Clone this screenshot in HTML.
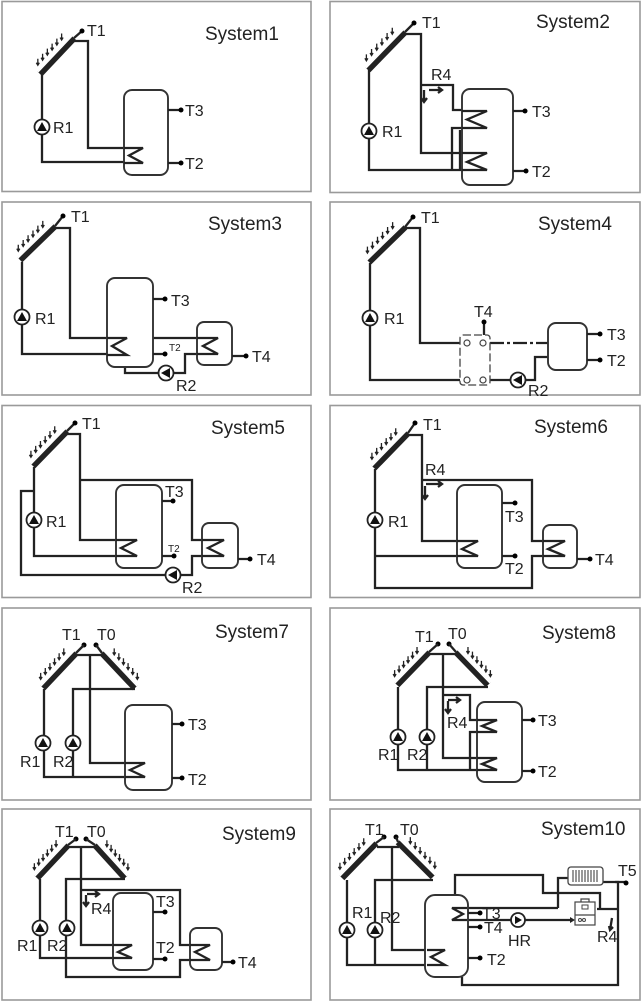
<!DOCTYPE html>
<html><head><meta charset="utf-8"><style>
html,body{margin:0;padding:0;background:#fff;}
svg{display:block;}
text{font-family:"Liberation Sans",Arial,sans-serif;fill:#222;}
.t{font-size:16px}.h{font-size:19px}.s{font-size:10px}
.p{fill:none;stroke:#222;stroke-width:2.3;stroke-linejoin:miter}
.k{fill:#fff;stroke:#333;stroke-width:1.9}
.b{fill:none;stroke:#9a9a9a;stroke-width:1.6}
.c1{stroke:#222;stroke-width:6.5}.c2{stroke:#fff;stroke-width:1.3}
</style></head><body>
<svg id="s" width="644" height="1005" viewBox="0 0 644 1005" xmlns="http://www.w3.org/2000/svg">
<defs>
<g id="pu"><circle r="7.5" fill="#fff" stroke="#222" stroke-width="1.8"/><polygon points="0,-5 5,4 -5,4" fill="#111"/></g>
</defs>

<!-- Panel 1 -->
<g transform="translate(0,0)">
<rect class="b" x="2" y="1.5" width="309" height="190"/>
<text class="h" x="205" y="40">System1</text>
<path class="p" d="M73,41 H88 V148 H133 M42,74 V162 H125"/>
<rect class="k" x="124" y="90" width="44" height="85" rx="8"/>
<path class="p" d="M124,148 H143 L129,155.5 L143,163 H124"/>
<path class="p" d="M168,110 H181 M168,163 H181"/>
<circle cx="181" cy="110" r="2.5"/><circle cx="181" cy="163" r="2.5"/>
<text class="t" x="185" y="116">T3</text><text class="t" x="185" y="169">T2</text>
<line class="c1" x1="40" y1="74" x2="74" y2="38"/><line class="c2" x1="38" y1="72" x2="72" y2="36"/>
<path class="p" stroke-width="1.3" d="M74,38 L82,31"/><circle cx="82" cy="31" r="2.5"/>
<text class="t" x="87" y="36">T1</text>
<use href="#pu" transform="translate(42,127)"/><text class="t" x="53" y="133">R1</text>
<g class="rays" data-a="40,74,74,38"></g>
</g>

<!-- Panel 2 -->
<g transform="translate(325,0)">
<rect class="b" x="5" y="1.5" width="310" height="191"/>
<text class="h" x="211" y="28">System2</text>
<path class="p" d="M80,34 H96 V153 H140 M44,70 V170 H140 M96,85 H128 V110 H138 M138,128 H127 V170 M135,130 V170"/>
<rect class="k" x="137" y="89" width="51" height="96" rx="8"/>
<path class="p" d="M137,111 H162 L142,119.5 L162,128 H137 M137,153 H162 L142,162 L162,170 H137"/>
<path class="p" stroke-width="1.3" d="M104,90 H117 M113,87 L117,90 L113,93 M99,90 V102 M96,98 L99,102 L102,98"/>
<text class="t" x="106" y="80">R4</text>
<path class="p" d="M188,111 H200 M188,171 H201"/>
<circle cx="200" cy="111" r="2.5"/><circle cx="201" cy="171" r="2.5"/>
<text class="t" x="207" y="117">T3</text><text class="t" x="207" y="177">T2</text>
<line class="c1" x1="43" y1="70" x2="80" y2="32"/><line class="c2" x1="41" y1="68" x2="78" y2="30"/>
<path class="p" stroke-width="1.3" d="M80,32 L89,23"/><circle cx="89" cy="23" r="2.5"/>
<text class="t" x="97" y="28">T1</text>
<use href="#pu" transform="translate(44,131)"/><text class="t" x="57" y="137">R1</text>
<g class="rays" data-a="43,70,80,32"></g>
</g>

<!-- Panel 3 -->
<g transform="translate(0,200)">
<rect class="b" x="2" y="2" width="309" height="193"/>
<text class="h" x="208" y="30">System3</text>
<path class="p" d="M55,28 H70 V138 H125 M22,62 V154 H108 M153,138 H217 M200,154 H185 V173 H172 M160,173 H125 V167"/>
<rect class="k" x="107" y="78" width="46" height="89" rx="8"/>
<rect class="k" x="197" y="122" width="35" height="43" rx="7"/>
<path class="p" d="M107,138 H127 L112,146 L127,155 H107 M197,138 H218 L203,146 L218,154 H197"/>
<path class="p" d="M153,99 H165 M153,154 H165 M232,156 H246"/>
<circle cx="165" cy="99" r="2.5"/><circle cx="165" cy="154" r="2.5"/><circle cx="246" cy="156" r="2.5"/>
<text class="t" x="171" y="106">T3</text><text class="s" x="169" y="151">T2</text><text class="t" x="252" y="162">T4</text>
<line class="c1" x1="20" y1="60" x2="55" y2="26"/><line class="c2" x1="18" y1="58" x2="53" y2="24"/>
<path class="p" stroke-width="1.3" d="M55,26 L63,16"/><circle cx="63" cy="16" r="2.5"/>
<text class="t" x="71" y="22">T1</text>
<use href="#pu" transform="translate(22,117)"/><text class="t" x="35" y="124">R1</text>
<use href="#pu" transform="translate(166,173) rotate(-90)"/><text class="t" x="176" y="191">R2</text>
<g class="rays" data-a="20,60,55,26"></g>
</g>

<!-- Panel 4 -->
<g transform="translate(325,200)">
<rect class="b" x="5" y="2" width="310" height="193"/>
<text class="h" x="213" y="30">System4</text>
<path class="p" d="M80,28 H95 V143 H137 M45,63 V180 H137 M165,180 H186 M200,180 H210 V157 H223"/>
<path class="p" stroke-dasharray="14,3,3,3" d="M165,143 H223"/>
<rect x="135" y="135" width="30" height="50" rx="3" fill="#fff" stroke="#444" stroke-width="1.3" stroke-dasharray="8,3"/>
<g fill="none" stroke="#444" stroke-width="1.2"><circle cx="142" cy="143" r="3"/><circle cx="158" cy="143" r="3"/><circle cx="142" cy="180" r="3"/><circle cx="158" cy="180" r="3"/></g>
<path class="p" stroke-width="1.3" d="M159,122 V135"/><circle cx="159" cy="122" r="2.5"/><text class="t" x="149" y="117">T4</text>
<rect class="k" x="223" y="123" width="39" height="47" rx="8"/>
<path class="p" d="M262,134 H275 M262,160 H275"/>
<circle cx="275" cy="134" r="2.5"/><circle cx="275" cy="160" r="2.5"/>
<text class="t" x="282" y="140">T3</text><text class="t" x="282" y="166">T2</text>
<line class="c1" x1="44" y1="62" x2="80" y2="27"/><line class="c2" x1="42" y1="60" x2="78" y2="25"/>
<path class="p" stroke-width="1.3" d="M80,27 L88,17"/><circle cx="88" cy="17" r="2.5"/>
<text class="t" x="96" y="23">T1</text>
<use href="#pu" transform="translate(45,118)"/><text class="t" x="59" y="124">R1</text>
<use href="#pu" transform="translate(193,180) rotate(-90)"/><text class="t" x="203" y="196">R2</text>
<g class="rays" data-a="44,62,80,27"></g>
</g>

<!-- Panel 5 -->
<g transform="translate(0,403)">
<rect class="b" x="2" y="2.5" width="309" height="192"/>
<text class="h" x="211" y="31">System5</text>
<path class="p" d="M67,31 H80 V137 H125 M80,77 H192 V137 H205 M34,64 V153 H117 M205,153 H192 V172 H180 M166,172 H21 V88 H34"/>
<rect class="k" x="116" y="82" width="46" height="83" rx="8"/>
<rect class="k" x="202" y="120" width="36" height="45" rx="7"/>
<path class="p" d="M116,137 H137 L121,145 L137,153 H116 M202,137 H224 L208,145 L224,153 H202"/>
<path class="p" d="M162,98 H173 M162,153 H174 M238,156 H250"/>
<circle cx="173" cy="98" r="2.5"/><circle cx="174" cy="153" r="2.5"/><circle cx="250" cy="156" r="2.5"/>
<text class="t" x="165" y="94">T3</text><text class="s" x="168" y="149">T2</text><text class="t" x="257" y="162">T4</text>
<line class="c1" x1="33" y1="63" x2="67" y2="28"/><line class="c2" x1="31" y1="61" x2="65" y2="26"/>
<path class="p" stroke-width="1.3" d="M67,28 L75,20"/><circle cx="75" cy="20" r="2.5"/>
<text class="t" x="82" y="26">T1</text>
<use href="#pu" transform="translate(34,117)"/><text class="t" x="46" y="124">R1</text>
<use href="#pu" transform="translate(173,172) rotate(-90)"/><text class="t" x="182" y="190">R2</text>
<g class="rays" data-a="33,63,67,28"></g>
</g>

<!-- Panel 6 -->
<g transform="translate(325,403)">
<rect class="b" x="5" y="2.5" width="310" height="192"/>
<text class="h" x="209" y="30">System6</text>
<path class="p" d="M83,32 H97 V138 H140 M97,77 H207 V138 H222 M50,66 V185 H207 V153 H222 M50,153 H133"/>
<rect class="k" x="132" y="82" width="45" height="83" rx="8"/>
<rect class="k" x="218" y="122" width="34" height="43" rx="7"/>
<path class="p" d="M132,138 H153 L137,146 L153,153 H132 M218,138 H240 L223,146 L240,153 H218"/>
<path class="p" stroke-width="1.3" d="M101,81 H117 M113,78 L117,81 L113,84 M100,83 V96 M97,92 L100,96 L103,92"/>
<text class="t" x="100" y="72">R4</text>
<path class="p" d="M177,100 H190 M177,153 H190 M252,156 H265"/>
<circle cx="190" cy="100" r="2.5"/><circle cx="190" cy="153" r="2.5"/><circle cx="265" cy="156" r="2.5"/>
<text class="t" x="180" y="119">T3</text><text class="t" x="180" y="171">T2</text><text class="t" x="270" y="162">T4</text>
<line class="c1" x1="49" y1="65" x2="83" y2="30"/><line class="c2" x1="47" y1="63" x2="81" y2="28"/>
<path class="p" stroke-width="1.3" d="M83,30 L90,20"/><circle cx="90" cy="20" r="2.5"/>
<text class="t" x="98" y="27">T1</text>
<use href="#pu" transform="translate(50,117)"/><text class="t" x="63" y="124">R1</text>
<g class="rays" data-a="49,65,83,30"></g>
</g>

<!-- Panel 7 -->
<g transform="translate(0,605)">
<rect class="b" x="2" y="3" width="309" height="192"/>
<text class="h" x="215" y="33">System7</text>
<path class="p" d="M75,50 H103 M90,50 V158 H128 M135,84 H73 V172 M44,84 V172 H126"/>
<rect class="k" x="125" y="100" width="47" height="85" rx="8"/>
<path class="p" d="M125,158 H145 L130,165 L145,172 H125"/>
<path class="p" d="M172,119 H182 M172,173 H182"/>
<circle cx="182" cy="119" r="2.5"/><circle cx="182" cy="173" r="2.5"/>
<text class="t" x="188" y="125">T3</text><text class="t" x="188" y="180">T2</text>
<line class="c1" x1="43" y1="83" x2="76" y2="48"/><line class="c2" x1="41" y1="81" x2="74" y2="46"/>
<line class="c1" x1="102" y1="48" x2="135" y2="83"/><line class="c2" x1="104" y1="46" x2="137" y2="81"/>
<circle cx="84" cy="40" r="2.5"/><circle cx="96" cy="40" r="2.5"/>
<path class="p" stroke-width="1.3" d="M76,48 L84,40 M96,40 L102,48"/>
<text class="t" x="62" y="35">T1</text><text class="t" x="97" y="35">T0</text>
<use href="#pu" transform="translate(43,138)"/><use href="#pu" transform="translate(73,138)"/>
<text class="t" x="20" y="162">R1</text><text class="t" x="53" y="162">R2</text>
<g class="rays" data-a="43,83,76,48"></g><g class="rays" data-a="102,48,135,83"></g>
</g>

<!-- Panel 8 -->
<g transform="translate(325,605)">
<rect class="b" x="5" y="3" width="310" height="192"/>
<text class="h" x="217" y="34">System8</text>
<path class="p" d="M104,49 H132 M118,49 V153 H160 M118,90 H145 V115 H153 M163,82 H102 V165 M73,82 V165 H152 M153,127 H145 V165"/>
<rect class="k" x="152" y="97" width="45" height="80" rx="8"/>
<path class="p" d="M152,115 H172 L157,121 L172,127 H152 M152,153 H172 L157,159 L172,165 H152"/>
<path class="p" stroke-width="1.3" d="M123,95 H135 M131,92 L135,95 L131,98 M123,96 V108 M120,104 L123,108 L126,104"/>
<text class="t" x="122" y="123">R4</text>
<path class="p" d="M197,115 H208 M197,166 H208"/>
<circle cx="208" cy="115" r="2.5"/><circle cx="208" cy="166" r="2.5"/>
<text class="t" x="213" y="121">T3</text><text class="t" x="213" y="172">T2</text>
<line class="c1" x1="72" y1="80" x2="104" y2="47"/><line class="c2" x1="70" y1="78" x2="102" y2="45"/>
<line class="c1" x1="131" y1="47" x2="163" y2="80"/><line class="c2" x1="133" y1="45" x2="165" y2="78"/>
<circle cx="113" cy="39" r="2.5"/><circle cx="124" cy="39" r="2.5"/>
<path class="p" stroke-width="1.3" d="M104,47 L113,39 M124,39 L131,47"/>
<text class="t" x="90" y="37">T1</text><text class="t" x="123" y="34">T0</text>
<use href="#pu" transform="translate(73,132)"/><use href="#pu" transform="translate(102,132)"/>
<text class="t" x="53" y="155">R1</text><text class="t" x="82" y="155">R2</text>
<g class="rays" data-a="72,80,104,47"></g><g class="rays" data-a="131,47,163,80"></g>
</g>

<!-- Panel 9 -->
<g transform="translate(0,805)">
<rect class="b" x="2" y="4" width="309" height="191"/>
<text class="h" x="222" y="35">System9</text>
<path class="p" d="M68,42 H95 M81,42 V140 H120 M81,85 H180 V140 H192 M125,74 H66 V172 H180 V155 H192 M40,74 V153 H115"/>
<rect class="k" x="113" y="88" width="40" height="77" rx="8"/>
<rect class="k" x="190" y="123" width="32" height="42" rx="7"/>
<path class="p" d="M113,140 H132 L118,147 L132,153 H113 M190,140 H210 L195,147 L210,155 H190"/>
<path class="p" stroke-width="1.3" d="M87,89 H99 M95,86 L99,89 L95,92 M86,90 V101 M83,97 L86,101 L89,97"/>
<text class="t" x="91" y="109">R4</text>
<path class="p" d="M153,107 H165 M153,154 H165 M222,157 H233"/>
<circle cx="165" cy="107" r="2.5"/><circle cx="165" cy="154" r="2.5"/><circle cx="233" cy="157" r="2.5"/>
<text class="t" x="156" y="102">T3</text><text class="t" x="156" y="148">T2</text><text class="t" x="238" y="163">T4</text>
<line class="c1" x1="37" y1="73" x2="68" y2="40"/><line class="c2" x1="35" y1="71" x2="66" y2="38"/>
<line class="c1" x1="95" y1="40" x2="125" y2="73"/><line class="c2" x1="97" y1="38" x2="127" y2="71"/>
<circle cx="76" cy="34" r="2.5"/><circle cx="86" cy="34" r="2.5"/>
<path class="p" stroke-width="1.3" d="M68,40 L76,34 M86,34 L95,40"/>
<text class="t" x="55" y="32">T1</text><text class="t" x="87" y="32">T0</text>
<use href="#pu" transform="translate(40,123)"/><use href="#pu" transform="translate(67,123)"/>
<text class="t" x="17" y="146">R1</text><text class="t" x="47" y="146">R2</text>
<g class="rays" data-a="37,73,68,40"></g><g class="rays" data-a="95,40,125,73"></g>
</g>

<!-- Panel 10 -->
<g transform="translate(325,805)">
<rect class="b" x="5" y="4" width="310" height="191"/>
<text class="h" x="216" y="30">System10</text>
<path class="p" d="M52,42 H74 M67,42 V145 H110 M108,75 H50 V160 M22,75 V160 H103 M130,90 V70 H218 V88 H275 V103 M143,103 H233 M233,103 V73 H243 M143,115 H187 M199,115 H245 M278,77 H293 V180 H137 V172 M293,104 H272"/>
<path d="M245,112 L250,115 L245,118 Z" fill="#222"/>
<rect class="k" x="100" y="90" width="43" height="82" rx="10"/>
<path class="p" d="M102,145 H120 L106,152 L120,160 H102 M142,103 H127 L138,109 L127,115 H142"/>
<path class="p" stroke-width="1.3" d="M143,108 H155 M143,122 H155 M143,153 H155 M290,77 H301"/>
<circle cx="155" cy="108" r="2.5"/><circle cx="155" cy="122" r="2.5"/><circle cx="155" cy="153" r="2.5"/><circle cx="301" cy="78" r="2.5"/>
<text class="t" x="157" y="114">T3</text><text class="t" x="159" y="128">T4</text><text class="t" x="162" y="160">T2</text><text class="t" x="293" y="71">T5</text>
<circle cx="193" cy="115" r="7" fill="#fff" stroke="#222" stroke-width="1.8"/><polygon points="190,111 197,115 190,119" fill="#111"/>
<text class="t" x="183" y="141">HR</text>
<rect x="243" y="62" width="35" height="18" rx="3" fill="#fff" stroke="#444" stroke-width="1.3"/>
<path d="M248,65 V77 M251,65 V77 M254,65 V77 M257,65 V77 M260,65 V77 M263,65 V77 M266,65 V77 M269,65 V77 M272,65 V77" stroke="#444" stroke-width="1.1"/>
<rect x="250" y="97" width="20" height="23" fill="#fff" stroke="#444" stroke-width="1.2"/>
<path d="M250,110 H270 M256,97 V94 H264 V97" fill="none" stroke="#444" stroke-width="1.2"/>
<rect x="257" y="100" width="6" height="4" fill="none" stroke="#444"/>
<circle cx="255" cy="115" r="1.5" fill="none" stroke="#444"/><circle cx="259" cy="115" r="1.5" fill="none" stroke="#444"/>
<path class="p" stroke-width="1.2" d="M287,113 L285,125 M284,121 L285,125 L288,122"/>
<text class="t" x="272" y="137">R4</text>
<line class="c1" x1="17" y1="73" x2="51" y2="38"/><line class="c2" x1="15" y1="71" x2="49" y2="36"/>
<line class="c1" x1="73" y1="37" x2="108" y2="72"/><line class="c2" x1="75" y1="35" x2="110" y2="70"/>
<circle cx="59" cy="32" r="2.5"/><circle cx="71" cy="32" r="2.5"/>
<path class="p" stroke-width="1.3" d="M51,38 L59,32 M71,32 L73,37"/>
<text class="t" x="40" y="30">T1</text><text class="t" x="75" y="30">T0</text>
<use href="#pu" transform="translate(22,125)"/><use href="#pu" transform="translate(50,125)"/>
<text class="t" x="27" y="113">R1</text><text class="t" x="55" y="118">R2</text>
<g class="rays" data-a="17,73,51,38"></g><g class="rays" data-a="73,37,108,72"></g>
</g>
</svg>
<script>
var NS="http://www.w3.org/2000/svg";
document.querySelectorAll("g.rays").forEach(function(g){
 var a=g.getAttribute("data-a").split(",").map(Number);
 var dx=a[2]-a[0],dy=a[3]-a[1],L=Math.hypot(dx,dy),nx=dy/L,ny=-dx/L;
 for(var i=0;i<6;i++){var t=0.15+i*0.14;
  var px=a[0]+dx*t+nx*10,py=a[1]+dy*t+ny*10;
  var p=document.createElementNS(NS,"path");
  p.setAttribute("d","M"+px+","+(py-3)+" V"+(py+3)+" M"+(px-1.5)+","+(py+1)+" L"+px+","+(py+3.5)+" L"+(px+1.5)+","+(py+1));
  p.setAttribute("stroke","#222");p.setAttribute("stroke-width","1.3");p.setAttribute("fill","none");
  g.appendChild(p);}
});
</script>
</body></html>
